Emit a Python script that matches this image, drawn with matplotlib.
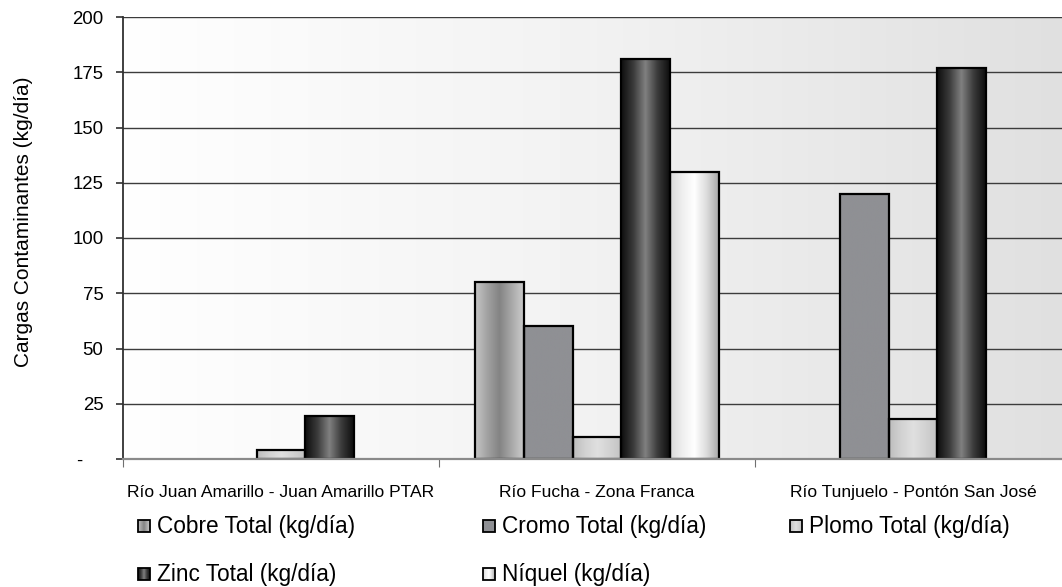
import numpy as np
import matplotlib
matplotlib.use("Agg")
import matplotlib.pyplot as plt
from matplotlib.colors import LinearSegmentedColormap
from matplotlib.patches import Rectangle
from matplotlib.ticker import FuncFormatter

plt.rcParams['font.family'] = ['Liberation Sans', 'DejaVu Sans']

sitios = ['Río Juan Amarillo - Juan Amarillo PTAR',
          'Río Fucha - Zona Franca',
          'Río Tunjuelo - Pontón San José']
series = ['Cobre Total (kg/día)', 'Cromo Total (kg/día)', 'Plomo Total (kg/día)',
          'Zinc Total (kg/día)', 'Níquel (kg/día)']
cobre = [0, 80, 0]
cromo = [0, 60, 120]
plomo = [4, 10, 18]
zinc = [19.5, 181, 177]
niquel = [0, 130, 0]
valores = [cobre, cromo, plomo, zinc, niquel]

# degradados horizontales de cada serie (tipo cilindro)
degradados = [
    ['#c6c6c6', '#a2a2a2', '#848484', '#a8a8a8', '#cccccc'],
    ['#8f9094', '#8f9094'],
    ['#bdbdbd', '#d2d2d2', '#e0e0e0', '#d2d2d2', '#c2c2c2'],
    ['#0d0d0d', '#3a3a3a', '#808080', '#3a3a3a', '#0d0d0d'],
    ['#d8d8d8', '#efefef', '#ffffff', '#dcdcdc', '#a8a8a8'],
]
cmaps = [LinearSegmentedColormap.from_list('s%d' % i, c) for i, c in enumerate(degradados)]
grad = np.linspace(0, 1, 256).reshape(1, -1)

fig = plt.figure(figsize=(10.62, 5.87), dpi=100)
ax = fig.add_axes([123 / 1062, 1 - 459 / 587, 948 / 1062, 442 / 587])

# fondo del área de trazado: blanco a gris claro
fondo = LinearSegmentedColormap.from_list('fondo', ['#ffffff', '#f2f2f2', '#e0e0e0'])
ax.imshow(grad, cmap=fondo, aspect='auto', extent=[0, 1, 0, 1],
          transform=ax.transAxes, zorder=0)

x = np.arange(len(sitios))
ancho = 0.154
for i, vals in enumerate(valores):
    pos = x + (i - 2) * ancho
    for xp, v in zip(pos, vals):
        if v == 0:
            continue
        b = ax.bar(xp, v, width=ancho, color='none', edgecolor='black',
                   linewidth=1.6, zorder=4)[0]
        im = ax.imshow(grad, cmap=cmaps[i], aspect='auto',
                       extent=[xp - ancho / 2, xp + ancho / 2, 0, v], zorder=3)
        im.set_clip_path(b)

ax.set_xlim(-0.5, 2.5)
ax.set_ylim(0, 200)
ax.set_yticks(np.arange(0, 201, 25))
ax.yaxis.set_major_formatter(FuncFormatter(lambda v, p: '-    ' if v == 0 else '%d' % v))
for yv in np.arange(25, 201, 25):
    ax.axhline(yv, color='#3c3c3c', linewidth=1.0, zorder=1)

ax.set_xticks([-0.5, 0.5, 1.5])
ax.set_xticklabels([])
ax.set_xticks(x, minor=True)
ax.set_xticklabels(sitios, minor=True, fontsize=12.6)
ax.tick_params(axis='x', which='minor', length=0, pad=19)
ax.tick_params(axis='x', which='major', length=6, color='#707070', direction='out')
ax.tick_params(axis='y', length=5, width=1.2, color='#303030', pad=9, labelsize=13.4)

for s in ['top', 'right']:
    ax.spines[s].set_visible(False)
ax.spines['left'].set_color('#303030')
ax.spines['left'].set_linewidth(1.3)
ax.spines['bottom'].set_color('#8a8a8a')
ax.spines['bottom'].set_linewidth(1.6)
ax.spines['bottom'].set_zorder(5)

ax.set_ylabel('Cargas Contaminantes (kg/día)', fontsize=15)
ax.yaxis.set_label_coords(-0.095, 0.536)

# leyenda dibujada a mano en píxeles de la figura
capa = fig.add_axes([0, 0, 1, 1], zorder=10)
capa.set_xlim(0, 1062)
capa.set_ylim(587, 0)
capa.axis('off')
col_x = [138, 483, 790]
fila_y = [526, 574]
for i, nombre in enumerate(series):
    cx = col_x[i % 3]
    cy = fila_y[i // 3]
    capa.imshow(grad, cmap=cmaps[i], aspect='auto',
                extent=[cx, cx + 12, cy + 6, cy - 6], zorder=2)
    capa.add_patch(Rectangle((cx, cy - 6), 12, 12, fill=False,
                             edgecolor='black', linewidth=1.3, zorder=3))
    capa.text(cx + 19, cy + 1, nombre, fontsize=16.3, va='center', ha='left')
capa.set_xlim(0, 1062)
capa.set_ylim(587, 0)

fig.savefig('out.png', dpi=100)
